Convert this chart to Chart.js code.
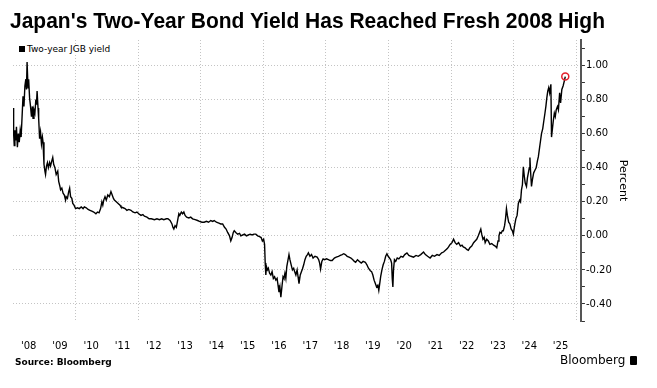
<!DOCTYPE html>
<html>
<head>
<meta charset="utf-8">
<script src="https://cdn.jsdelivr.net/npm/chart.js@4.4.1/dist/chart.umd.min.js"></script>
<style>
  html, body { margin: 0; padding: 0; background: #fff; }
  #wrap { position: relative; width: 657px; height: 388px; overflow: hidden; }
  #chart { position: absolute; left: 0; top: 0; }
  #title { position: absolute; left: 10px; top: 8px; font: bold 22px "Liberation Sans", Arial, sans-serif; color: #000; white-space: nowrap; transform-origin: 0 0; }
  #legend { position: absolute; left: 19px; top: 44px; font: 9px "DejaVu Sans", sans-serif; color: #000; white-space: nowrap; background: #fff; padding-right: 2px; }
  #legend b { display: inline-block; width: 6px; height: 6px; background: #000; margin-right: 2px; vertical-align: 0; }
  #source { position: absolute; left: 15px; top: 357px; font: bold 9px "DejaVu Sans", sans-serif; color: #000; }
  #brand { position: absolute; left: 560px; top: 353px; font: 12px "DejaVu Sans", sans-serif; color: #000; white-space: nowrap; }
  #brand i { display: inline-block; width: 7px; height: 9px; background: #000; border-radius: 1px; margin-left: 5px; vertical-align: -1px; }
</style>
</head>
<body>
<div id="wrap">
  <canvas id="chart" width="657" height="388"></canvas>
  <div id="title">Japan's Two-Year Bond Yield Has Reached Fresh 2008 High</div>
  <div id="legend"><b></b>Two-year JGB yield</div>
  <div id="source">Source: Bloomberg</div>
  <div id="brand">Bloomberg<i></i></div>
</div>
<script>
/* two-year JGB yield, decimal year -> percent */
const dates = [
  2008.00, 2008.02, 2008.04, 2008.06, 2008.09, 2008.11, 2008.14, 2008.17, 2008.20, 2008.23, 2008.26, 2008.29,
  2008.32, 2008.35, 2008.38, 2008.41, 2008.43, 2008.45, 2008.48, 2008.50, 2008.53, 2008.56, 2008.59, 2008.62,
  2008.64, 2008.67, 2008.70, 2008.73, 2008.75, 2008.77, 2008.80, 2008.82, 2008.85, 2008.88, 2008.91, 2008.94,
  2008.96, 2008.99,
  2009.02, 2009.04, 2009.07, 2009.10, 2009.13, 2009.17, 2009.20, 2009.24, 2009.27, 2009.30, 2009.34, 2009.38,
  2009.43, 2009.46, 2009.50, 2009.52, 2009.56, 2009.60, 2009.64, 2009.68, 2009.70, 2009.74, 2009.78, 2009.81,
  2009.84, 2009.88, 2009.91, 2009.95,
  2010.00, 2010.06, 2010.12, 2010.18, 2010.24, 2010.28, 2010.34, 2010.40, 2010.46, 2010.52, 2010.58, 2010.65,
  2010.70, 2010.75, 2010.80, 2010.84, 2010.87, 2010.90, 2010.94, 2010.98,
  2011.03, 2011.08, 2011.13, 2011.17, 2011.21, 2011.24, 2011.30, 2011.36, 2011.42, 2011.45, 2011.52, 2011.58,
  2011.64, 2011.70, 2011.77, 2011.83, 2011.90, 2011.96,
  2012.02, 2012.09, 2012.15, 2012.20, 2012.28, 2012.35, 2012.42, 2012.52, 2012.60, 2012.68, 2012.75, 2012.82,
  2012.90, 2012.95,
  2013.02, 2013.08, 2013.11, 2013.14, 2013.18, 2013.22, 2013.26, 2013.30, 2013.33, 2013.38, 2013.42, 2013.46,
  2013.50, 2013.55, 2013.62, 2013.68, 2013.74, 2013.82, 2013.90, 2013.96,
  2014.04, 2014.11, 2014.18, 2014.25, 2014.32, 2014.38, 2014.43, 2014.50, 2014.58, 2014.64, 2014.70, 2014.76,
  2014.81, 2014.86, 2014.92, 2014.96,
  2015.00, 2015.04, 2015.07, 2015.12, 2015.18, 2015.24, 2015.28, 2015.34, 2015.40, 2015.46, 2015.52, 2015.58,
  2015.64, 2015.70, 2015.76, 2015.82, 2015.88, 2015.93, 2015.97,
  2016.01, 2016.04, 2016.06, 2016.08, 2016.10, 2016.13, 2016.16, 2016.20, 2016.24, 2016.28, 2016.32, 2016.36,
  2016.40, 2016.44, 2016.47, 2016.50, 2016.53, 2016.56, 2016.60, 2016.63, 2016.66, 2016.69, 2016.72, 2016.75,
  2016.78, 2016.82, 2016.85, 2016.89, 2016.93, 2016.97,
  2017.00, 2017.04, 2017.08, 2017.11, 2017.14, 2017.18, 2017.22, 2017.25, 2017.29, 2017.33, 2017.37, 2017.41,
  2017.44, 2017.49, 2017.54, 2017.59, 2017.65, 2017.72, 2017.77, 2017.80, 2017.83, 2017.87, 2017.91, 2017.96,
  2018.02, 2018.08, 2018.14, 2018.20, 2018.27, 2018.33, 2018.40, 2018.46, 2018.52, 2018.57, 2018.62, 2018.68,
  2018.74, 2018.80, 2018.86, 2018.91, 2018.95,
  2019.01, 2019.07, 2019.13, 2019.19, 2019.26, 2019.31, 2019.36, 2019.42, 2019.46, 2019.50, 2019.54, 2019.58,
  2019.62, 2019.66, 2019.69, 2019.72, 2019.75, 2019.79, 2019.83, 2019.87, 2019.91, 2019.95, 2019.99,
  2020.03, 2020.07, 2020.10, 2020.12, 2020.14, 2020.16, 2020.19, 2020.23, 2020.28, 2020.33, 2020.40, 2020.46,
  2020.52, 2020.59, 2020.65, 2020.72, 2020.80, 2020.88, 2020.95,
  2021.03, 2021.12, 2021.18, 2021.25, 2021.33, 2021.40, 2021.47, 2021.55, 2021.62, 2021.70, 2021.76, 2021.82,
  2021.88, 2021.92, 2021.97,
  2022.03, 2022.08, 2022.13, 2022.18, 2022.24, 2022.30, 2022.35, 2022.39, 2022.45, 2022.50, 2022.55, 2022.60,
  2022.66, 2022.72, 2022.77, 2022.82, 2022.87, 2022.91, 2022.95, 2022.98,
  2023.02, 2023.06, 2023.09, 2023.14, 2023.19, 2023.24, 2023.30, 2023.36, 2023.41, 2023.46, 2023.50, 2023.53,
  2023.56, 2023.60, 2023.64, 2023.67, 2023.71, 2023.74, 2023.77, 2023.80, 2023.84, 2023.88, 2023.92, 2023.96,
  2023.99,
  2024.03, 2024.07, 2024.11, 2024.15, 2024.19, 2024.22, 2024.25, 2024.28, 2024.31, 2024.34, 2024.37, 2024.41,
  2024.44, 2024.47, 2024.50, 2024.52, 2024.54, 2024.57, 2024.60, 2024.64, 2024.68, 2024.72, 2024.76, 2024.79,
  2024.83, 2024.86, 2024.89, 2024.93, 2024.96,
  2025.00, 2025.03, 2025.06, 2025.09, 2025.12, 2025.15, 2025.19, 2025.21, 2025.24, 2025.27, 2025.30, 2025.33,
  2025.36, 2025.40, 2025.43, 2025.47, 2025.50, 2025.54, 2025.58, 2025.62, 2025.65
];
const yields = [
  0.75, 0.60, 0.53, 0.62, 0.56, 0.64, 0.52, 0.60, 0.55, 0.62, 0.58, 0.70,
  0.82, 0.76, 0.88, 0.92, 0.86, 1.02, 0.87, 0.92, 0.81, 0.76, 0.70, 0.76,
  0.69, 0.74, 0.72, 0.80, 0.77, 0.85, 0.75, 0.69, 0.57, 0.61, 0.54, 0.58,
  0.55, 0.42,
  0.38, 0.36, 0.41, 0.43, 0.40, 0.43, 0.41, 0.44, 0.46, 0.42, 0.40, 0.36,
  0.38, 0.32, 0.29, 0.27, 0.28, 0.25, 0.24, 0.21, 0.23, 0.22, 0.26, 0.28,
  0.23, 0.22, 0.19, 0.18,
  0.16, 0.165, 0.16, 0.17, 0.16, 0.17, 0.165, 0.155, 0.15, 0.145, 0.14, 0.13,
  0.14, 0.135, 0.16, 0.20, 0.18, 0.21, 0.23, 0.21,
  0.24, 0.23, 0.26, 0.24, 0.22, 0.21, 0.20, 0.19, 0.18, 0.17, 0.165, 0.16,
  0.15, 0.155, 0.15, 0.14, 0.135, 0.14,
  0.13, 0.12, 0.125, 0.115, 0.11, 0.10, 0.10, 0.095, 0.10, 0.095, 0.10, 0.095,
  0.10, 0.10,
  0.09, 0.07, 0.05, 0.04, 0.06, 0.05, 0.09, 0.13, 0.12, 0.14, 0.13, 0.14,
  0.12, 0.11, 0.105, 0.11, 0.10, 0.095, 0.09, 0.085,
  0.08, 0.08, 0.085, 0.08, 0.09, 0.085, 0.09, 0.08, 0.075, 0.07, 0.07, 0.05,
  0.04, 0.02, 0.00, -0.03,
  -0.01, 0.02, 0.03, 0.02, 0.01, 0.015, 0.00, 0.005, 0.01, 0.00, 0.005, 0.01,
  0.005, 0.01, 0.01, 0.00, -0.005, -0.01, -0.03,
  -0.02, -0.05, -0.16, -0.23, -0.18, -0.20, -0.19, -0.22, -0.23, -0.21, -0.25, -0.24,
  -0.26, -0.25, -0.29, -0.33, -0.30, -0.36, -0.29, -0.24, -0.25, -0.22, -0.25, -0.18,
  -0.15, -0.11, -0.14, -0.17, -0.20, -0.19,
  -0.21, -0.23, -0.20, -0.24, -0.28, -0.23, -0.21, -0.195, -0.17, -0.14, -0.12, -0.11,
  -0.10, -0.12, -0.11, -0.13, -0.12, -0.125, -0.14, -0.16, -0.195, -0.15, -0.135, -0.14,
  -0.135, -0.14, -0.145, -0.145, -0.13, -0.125, -0.12, -0.115, -0.11, -0.105, -0.11, -0.12,
  -0.125, -0.13, -0.14, -0.15, -0.155,
  -0.14, -0.15, -0.16, -0.15, -0.155, -0.17, -0.19, -0.205, -0.21, -0.23, -0.26, -0.28,
  -0.30, -0.29, -0.32, -0.28, -0.24, -0.20, -0.17, -0.15, -0.12, -0.105, -0.12,
  -0.13, -0.14, -0.16, -0.25, -0.30, -0.20, -0.14, -0.15, -0.13, -0.135, -0.12, -0.125,
  -0.11, -0.10, -0.115, -0.12, -0.125, -0.115, -0.12,
  -0.11, -0.095, -0.11, -0.12, -0.13, -0.115, -0.12, -0.11, -0.115, -0.10, -0.095, -0.085,
  -0.075, -0.065, -0.05,
  -0.04, -0.02, -0.04, -0.05, -0.04, -0.06, -0.055, -0.065, -0.07, -0.08, -0.085, -0.07,
  -0.06, -0.04, -0.03, -0.02, 0.00, 0.02, 0.04, 0.01,
  -0.02, -0.01, -0.04, -0.02, -0.03, -0.05, -0.045, -0.055, -0.06, -0.07, -0.03, 0.00,
  0.02, 0.015, 0.03, 0.03, 0.06, 0.10, 0.16, 0.12, 0.08, 0.07, 0.04, 0.03,
  0.01,
  0.06, 0.10, 0.12, 0.19, 0.21, 0.20, 0.27, 0.30, 0.405, 0.35, 0.31, 0.29,
  0.34, 0.37, 0.40, 0.46, 0.38, 0.29, 0.33, 0.37, 0.385, 0.40, 0.44, 0.465,
  0.52, 0.56, 0.60, 0.63, 0.67,
  0.72, 0.76, 0.81, 0.85, 0.87, 0.84, 0.89, 0.58, 0.63, 0.68, 0.72, 0.70,
  0.74, 0.76, 0.74, 0.84, 0.78, 0.86, 0.88, 0.91, 0.935
];

const labelYears = [2008, 2009, 2010, 2011, 2012, 2013, 2014, 2015, 2016, 2017, 2018, 2019, 2020, 2021, 2022, 2023, 2024, 2025];
const gridYears = [2010, 2012, 2014, 2016, 2018, 2020, 2022, 2024, 2026];
const yTicks = [-0.5, -0.4, -0.3, -0.2, -0.1, 0, 0.1, 0.2, 0.3, 0.4, 0.5, 0.6, 0.7, 0.8, 0.9, 1.0, 1.1];

const X_MIN = 2008, X_MAX = 2026.15;
const lastIdx = yields.length - 1;
const isMajor = v => Math.abs(Math.round(v * 10)) % 2 === 0;

// squeeze the title into the same width as the original
const titleEl = document.getElementById('title');
titleEl.style.transform = 'scaleX(' + (595 / titleEl.getBoundingClientRect().width) + ')';

new Chart(document.getElementById('chart'), {
  type: 'line',
  data: {
    datasets: [{
      label: 'Two-year JGB yield',
      data: dates.map((d, i) => ({ x: d, y: yields[i] })),
      borderColor: '#000',
      backgroundColor: '#000',
      borderWidth: 1.4,
      tension: 0,
      pointRadius: ctx => ctx.dataIndex === lastIdx ? 3.5 : 0,
      pointBorderColor: '#e3202a',
      pointBackgroundColor: 'rgba(255,255,255,0)',
      pointBorderWidth: 1.5,
    }],
  },
  options: {
    responsive: false,
    animation: false,
    layout: { padding: { top: 40, left: 13, right: 22, bottom: 25 } },
    plugins: {
      legend: { display: false },
      tooltip: { enabled: false },
    },
    scales: {
      x: {
        type: 'linear',
        min: X_MIN, max: X_MAX,
        afterBuildTicks: s => { s.ticks = labelYears.map(y => ({ value: y + 0.5 })); },
        ticks: {
          callback: v => "'" + String(Math.floor(v)).slice(2),
          color: '#000',
          font: { family: 'DejaVu Sans', size: 10 },
          padding: 11,
          maxRotation: 0,
          autoSkip: false,
        },
        grid: { display: false },
        border: { display: false },
      },
      xGrid: {
        type: 'linear',
        position: 'bottom',
        min: X_MIN, max: X_MAX,
        afterBuildTicks: s => { s.ticks = gridYears.map(y => ({ value: y })); },
        ticks: { display: false },
        grid: { color: '#c4c4c4', lineWidth: 1, drawTicks: false },
        border: { display: false, dash: [1, 2] },
      },
      y: {
        position: 'right',
        min: -0.5, max: 1.15,
        afterBuildTicks: s => { s.ticks = yTicks.map(v => ({ value: v })); },
        ticks: {
          callback: v => isMajor(v) ? v.toFixed(2) : '',
          color: '#000',
          font: { family: 'DejaVu Sans', size: 10 },
          padding: 1,
          autoSkip: false,
        },
        grid: {
          color: ctx => isMajor(ctx.tick.value) ? '#c4c4c4' : 'rgba(0,0,0,0)',
          tickColor: '#333',
          tickLength: 4,
          tickWidth: 1,
        },
        border: { display: true, color: '#555', width: 2, dash: [1, 2] },
        title: {
          display: true,
          text: 'Percent',
          color: '#000',
          font: { family: 'DejaVu Sans', size: 11 },
          padding: { top: 6, bottom: 3 },
        },
      },
    },
  },
});
</script>
</body>
</html>
